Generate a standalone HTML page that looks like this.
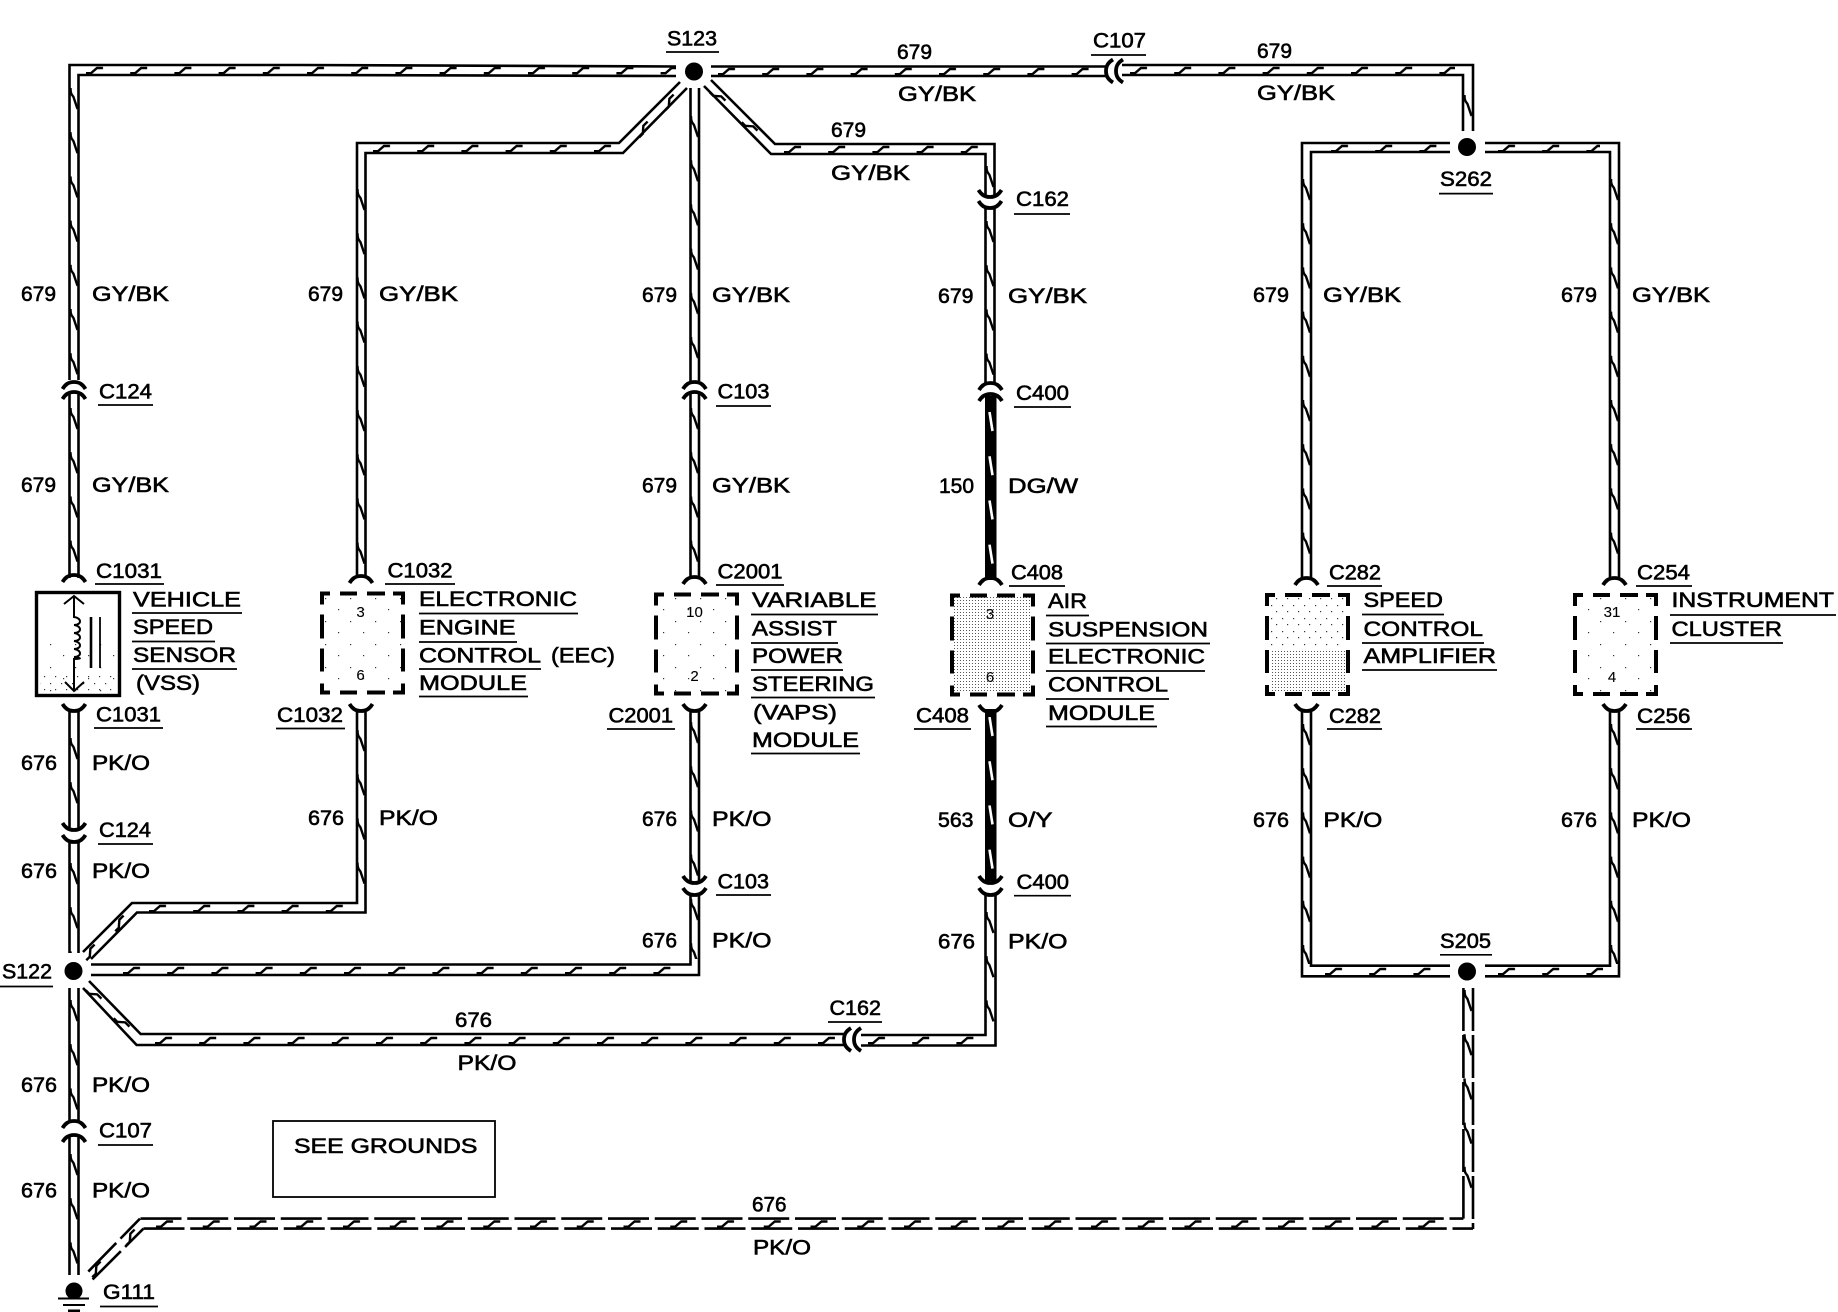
<!DOCTYPE html>
<html><head><meta charset="utf-8"><title>Wiring diagram</title>
<style>
html,body{margin:0;padding:0;background:#fff}
svg{display:block}
text{font-family:"Liberation Sans",Arial,sans-serif;font-size:21px;fill:#000;stroke:#000;stroke-width:.6}
.n{font-size:15px;stroke-width:.1;text-anchor:middle}
</style></head><body>
<svg xmlns="http://www.w3.org/2000/svg" width="1838" height="1312" viewBox="0 0 1838 1312">
<defs>
<path id="th" d="M0,3.2H5L11,-2H17" fill="none" stroke="#000" stroke-width="2.4"/>
<pattern id="v" patternUnits="userSpaceOnUse" width="10" height="44.2"><path d="M1.5,0C1.5,7 3.5,7 4.5,9L8.5,21" fill="none" stroke="#000" stroke-width="2.4"/></pattern>
<pattern id="vw" patternUnits="userSpaceOnUse" width="12" height="44.2"><path d="M4.5,0L7.5,19" stroke="#fff" stroke-width="2.6" fill="none"/></pattern>
<pattern id="h" patternUnits="userSpaceOnUse" width="44.2" height="10"><path d="M0,8.2H5L11,3H17" fill="none" stroke="#000" stroke-width="2.4"/></pattern>
<pattern id="hd" patternUnits="userSpaceOnUse" width="46.75" height="10"><path d="M0,8.2H5L11,3H17" fill="none" stroke="#000" stroke-width="2.4"/></pattern>
<pattern id="s1" patternUnits="userSpaceOnUse" width="3" height="3"><rect width="1" height="1" fill="#555"/></pattern>
<pattern id="s2" patternUnits="userSpaceOnUse" width="11" height="13"><rect width="1.2" height="1.2" fill="#333"/><rect x="6" y="7" width="1.2" height="1.2" fill="#333"/></pattern>
<pattern id="s3" patternUnits="userSpaceOnUse" width="25" height="23"><rect width="1.2" height="1.2" fill="#333"/><rect x="13" y="11" width="1.2" height="1.2" fill="#333"/></pattern>
<path id="cu" d="M-11.5,5C-9,1 -6,-2 0,-2C6,-2 9,1 11.5,5" fill="none" stroke="#000" stroke-width="3.8"/>
<path id="box" fill="none" stroke="#000" stroke-width="4" d="M2,13V2H10M20,2H37M47,2H65M73,2H83V13M2,23V47M2,57V80M2,92V101H10M20,101H37M47,101H65M73,101H83V92M83,80V57M83,47V23"/>
</defs>

<!-- stipple fills -->
<rect x="954" y="597" width="76" height="96" fill="url(#s1)"/>
<rect x="1270" y="650" width="76" height="42" fill="url(#s1)"/>
<rect x="1270" y="597" width="76" height="53" fill="url(#s2)"/>
<rect x="324" y="596" width="78" height="94" fill="url(#s3)"/>
<rect x="658" y="596" width="76" height="96" fill="url(#s3)"/>
<rect x="1577" y="596" width="76" height="96" fill="url(#s3)"/>
<rect x="40" y="640" width="76" height="52" fill="url(#s3)"/>
<rect x="40" y="672" width="76" height="20" fill="url(#s2)"/>

<!-- wire rails -->
<g fill="none" stroke="#000" stroke-width="2.6">
<path d="M69.5,380V65H300L676,66.5"/>
<path d="M78.5,380V75H300L676,76"/>
<path d="M69.5,394V578M78.5,394V578"/>
<path d="M69.5,710V830M78.5,710V830"/>
<path d="M69.5,842V953M78.5,842V953"/>
<path d="M69.5,988V1121M78.5,988V1121"/>
<path d="M69.5,1136V1275M78.5,1136V1275"/>
<path d="M711,66.5H1106M711,76H1106"/>
<path d="M1122,65H1473V131M1122,75H1463V131"/>
<path d="M357,578V143H619L680,82"/>
<path d="M365.5,578V153H623L687,88"/>
<path d="M357,710V903H132L83,952"/>
<path d="M365.5,710V912.5H137L91,959"/>
<path d="M690.5,88V381M699,88V381M690.5,394V578M699,394V578"/>
<path d="M690.5,710V883M699,710V883"/>
<path d="M690.5,895V964.5H91M699,895V975H91"/>
<path d="M711,80L775,144H994.5V197"/>
<path d="M704,86L771,154H985.5V197"/>
<path d="M985.5,207V385M994.5,207V385"/>
<path d="M985.5,893V1035H861M995.5,893V1045.5H861"/>
<path d="M89,981L140.6,1034H845M83,988L136.6,1045H845"/>
<path d="M1450,143H1302V580M1450,152H1311V580"/>
<path d="M1485,143H1619V580M1485,152H1610V580"/>
<path d="M1302,710V976.3H1450M1311,710V965.7H1450"/>
<path d="M1619,710V976.3H1485M1610,710V965.7H1485"/>
<path stroke-dasharray="43 4" d="M1463.4,988V1218.6"/>
<path stroke-dasharray="43 4" d="M1473,988V1229"/>
<path stroke-dasharray="41 5.75" d="M140.5,1218.6H1463.4"/>
<path stroke-dasharray="41 5.75" d="M143.5,1228.6H1473"/>
<path stroke-dasharray="28 6 40" d="M140,1218.6L83,1277"/>
<path stroke-dasharray="26 6 40" d="M143.5,1228.6L88,1284"/>
</g>

<!-- thick wires -->
<rect x="985" y="396" width="11.5" height="184" fill="#000"/>
<rect x="985" y="709" width="11.5" height="172" fill="#000"/>

<!-- vertical ticks -->
<g fill="url(#v)">
<g transform="translate(69,88)"><rect width="10" height="290"/></g>
<g transform="translate(69,408)"><rect width="10" height="170"/></g>
<g transform="translate(69,738)"><rect width="10" height="85"/></g>
<g transform="translate(69,863)"><rect width="10" height="90"/></g>
<g transform="translate(69,1000)"><rect width="10" height="118"/></g>
<g transform="translate(69,1154)"><rect width="10" height="120"/></g>
<g transform="translate(356,189)"><rect width="10" height="390"/></g>
<g transform="translate(356,730)"><rect width="10" height="170"/></g>
<g transform="translate(689.5,116)"><rect width="10" height="265"/></g>
<g transform="translate(689.5,408)"><rect width="10" height="170"/></g>
<g transform="translate(689.5,722)"><rect width="10" height="154"/></g>
<g transform="translate(689.5,899)"><rect width="10" height="60"/></g>
<g transform="translate(985,166)"><rect width="10" height="23"/></g>
<g transform="translate(985,221)"><rect width="10" height="160"/></g>
<g transform="translate(985,912)"><rect width="10" height="112"/></g>
<g transform="translate(1301.5,179)"><rect width="10" height="375"/></g>
<g transform="translate(1301.5,724)"><rect width="10" height="240"/></g>
<g transform="translate(1609.5,179)"><rect width="10" height="375"/></g>
<g transform="translate(1609.5,724)"><rect width="10" height="240"/></g>
<g transform="translate(1463,95)"><rect width="10" height="30"/></g>
<g transform="translate(1463,990)"><rect width="10" height="215"/></g>
</g>
<g fill="url(#vw)">
<g transform="translate(985,412)"><rect width="12" height="165"/></g>
<g transform="translate(985,717)"><rect width="12" height="160"/></g>
</g>

<!-- horizontal ticks -->
<g fill="url(#h)">
<g transform="translate(86,65)"><rect width="590" height="10"/></g>
<g transform="translate(718,66)"><rect width="380" height="10"/></g>
<g transform="translate(1130,65)"><rect width="325" height="10"/></g>
<g transform="translate(1331,143)"><rect width="110" height="10"/></g>
<g transform="translate(1498,143)"><rect width="102" height="10"/></g>
<g transform="translate(784,144)"><rect width="196" height="10"/></g>
<g transform="translate(373,143)"><rect width="240" height="10"/></g>
<g transform="translate(149,903)"><rect width="200" height="10"/></g>
<g transform="translate(123,965)"><rect width="555" height="10"/></g>
<g transform="translate(155,1035)"><rect width="680" height="10"/></g>
<g transform="translate(868,1035)"><rect width="110" height="10"/></g>
<g transform="translate(1325,966)"><rect width="110" height="10"/></g>
<g transform="translate(1498,966)"><rect width="105" height="10"/></g>
</g>
<g transform="translate(156,1218.5)"><rect width="1290" height="10" fill="url(#hd)"/></g>

<!-- diagonal ticks -->
<use href="#th" transform="translate(637,135) rotate(-45)"/>
<use href="#th" transform="translate(663,108) rotate(-45)"/>
<use href="#th" transform="translate(712,90) rotate(45)"/>
<use href="#th" transform="translate(744,120) rotate(45)"/>
<use href="#th" transform="translate(84,958) rotate(-45)"/>
<use href="#th" transform="translate(113,929) rotate(-45)"/>
<use href="#th" transform="translate(88,988) rotate(45)"/>
<use href="#th" transform="translate(116,1016) rotate(45)"/>
<use href="#th" transform="translate(124,1243) rotate(-45)"/>
<use href="#th" transform="translate(90,1275) rotate(-45)"/>

<!-- connectors -->
<g>
<use href="#cu" transform="translate(74,384)"/><use href="#cu" transform="translate(74,394)"/>
<use href="#cu" transform="translate(74,577)"/>
<use href="#cu" transform="translate(74,709) scale(1,-1)"/>
<use href="#cu" transform="translate(74,828) scale(1,-1)"/><use href="#cu" transform="translate(74,840) scale(1,-1)"/>
<use href="#cu" transform="translate(74,1123)"/><use href="#cu" transform="translate(74,1137)"/>
<use href="#cu" transform="translate(361,578)"/>
<use href="#cu" transform="translate(361,709) scale(1,-1)"/>
<use href="#cu" transform="translate(694.5,384)"/><use href="#cu" transform="translate(694.5,394)"/>
<use href="#cu" transform="translate(694.5,579)"/>
<use href="#cu" transform="translate(694.5,709) scale(1,-1)"/>
<use href="#cu" transform="translate(694.5,881) scale(1,-1)"/><use href="#cu" transform="translate(694.5,893) scale(1,-1)"/>
<use href="#cu" transform="translate(990,195) scale(1,-1)"/><use href="#cu" transform="translate(990,206) scale(1,-1)"/>
<use href="#cu" transform="translate(990.5,385)"/><use href="#cu" transform="translate(990.5,396)"/>
<use href="#cu" transform="translate(990.5,580)"/>
<use href="#cu" transform="translate(990.5,710) scale(1,-1)"/>
<use href="#cu" transform="translate(990.5,881) scale(1,-1)"/><use href="#cu" transform="translate(990.5,893) scale(1,-1)"/>
<use href="#cu" transform="translate(1306.5,580)"/>
<use href="#cu" transform="translate(1306.5,709) scale(1,-1)"/>
<use href="#cu" transform="translate(1614.5,580)"/>
<use href="#cu" transform="translate(1614.5,709) scale(1,-1)"/>
<use href="#cu" transform="translate(1108,71) rotate(-90)"/><use href="#cu" transform="translate(1118,71) rotate(-90)"/>
<use href="#cu" transform="translate(846,1039.5) rotate(-90)"/><use href="#cu" transform="translate(856,1039.5) rotate(-90)"/>
</g>

<!-- splices -->
<g fill="#000">
<circle cx="694" cy="71.5" r="9"/>
<circle cx="1467" cy="147" r="9"/>
<circle cx="73.5" cy="971" r="9"/>
<circle cx="1467" cy="971.5" r="9"/>
<circle cx="74" cy="1291" r="8.5"/>
</g>
<path d="M58,1298.5H89M63,1305H85" stroke="#000" stroke-width="2" fill="none"/>
<path d="M68,1311H80" stroke="#000" stroke-width="3" fill="none"/>

<!-- modules -->
<rect x="36.5" y="592.5" width="83" height="103" fill="none" stroke="#000" stroke-width="3.4"/>
<g fill="none" stroke="#000" stroke-width="2">
<path d="M74,596V617c8,1 8,8 0,8c8,1 8,8 0,8c8,1 8,8 0,8c8,1 8,8 0,8c8,1 8,8 0,8c8,1 8,2 0,2V691"/>
<path d="M64,604L74,596L84,604M65,682L74,691L84,682"/>
<path d="M91,617V668" stroke-width="2.6"/>
<path d="M100,617V668" stroke-width="1.8"/>
</g>
<use href="#box" transform="translate(320,591.5)"/>
<use href="#box" transform="translate(654,592.5)"/>
<use href="#box" transform="translate(950,593.5)"/>
<use href="#box" transform="translate(1265,593)"/>
<use href="#box" transform="translate(1573,593)"/>

<text class="n" x="360.5" y="617">3</text><text class="n" x="360.5" y="680">6</text>
<text class="n" x="694.5" y="617">10</text><text class="n" x="694.5" y="681">2</text>
<text class="n" x="990" y="619">3</text><text class="n" x="990" y="682">6</text>
<text class="n" x="1612" y="617">31</text><text class="n" x="1612" y="682">4</text>

<!-- underlines -->
<path fill="none" stroke="#000" stroke-width="1.7" d="M666,52H719M98,405H153M95,584H164M385,584H455M716,406H771M716,585H784M1091,55H1146M1014,214H1070M1014,407H1071M1009,586H1065M1439,193.6H1493M1327,586H1382M1636,586H1692
M132,613H242M132,641.5H215M132,669H237M419,613.5H578M419,642H517M419,669H541M419,696.5H528M751,614.5H878M751,643H838M751,670H843M751,697.5H875M751,753.5H860M1046,615.5H1089M1046,643.5H1210M1046,671H1205M1046,699H1169M1046,726.5H1157M1362,614.5H1444M1362,643H1484M1362,670H1497M1670,615H1836M1670,643H1783
M94,728H163M98,844H153M0,986.5H53M98,1145H153M100,1306.5H158M276,728.5H345M607,729H675M716,895H771M828,1022H882M914,729H971M1014,895.7H1071M1327,729H1382M1636,729H1692M1440,954.8H1492"/>

<rect x="273" y="1121" width="222" height="76" fill="none" stroke="#000" stroke-width="1.8"/>

<!-- labels -->
<g>
<text x="667" y="45.5" textLength="50" lengthAdjust="spacingAndGlyphs">S123</text>
<text x="21" y="301" textLength="35" lengthAdjust="spacingAndGlyphs">679</text>
<text x="92" y="301" textLength="77" lengthAdjust="spacingAndGlyphs">GY/BK</text>
<text x="21" y="492" textLength="35" lengthAdjust="spacingAndGlyphs">679</text>
<text x="92" y="492" textLength="77" lengthAdjust="spacingAndGlyphs">GY/BK</text>
<text x="99" y="398.5" textLength="53" lengthAdjust="spacingAndGlyphs">C124</text>
<text x="96" y="578" textLength="66" lengthAdjust="spacingAndGlyphs">C1031</text>
<text x="308" y="301" textLength="35" lengthAdjust="spacingAndGlyphs">679</text>
<text x="379" y="301" textLength="79" lengthAdjust="spacingAndGlyphs">GY/BK</text>
<text x="387.5" y="577.5" textLength="65" lengthAdjust="spacingAndGlyphs">C1032</text>
<text x="642" y="302" textLength="35" lengthAdjust="spacingAndGlyphs">679</text>
<text x="712" y="302" textLength="78" lengthAdjust="spacingAndGlyphs">GY/BK</text>
<text x="642" y="492.5" textLength="35" lengthAdjust="spacingAndGlyphs">679</text>
<text x="712" y="492.5" textLength="78" lengthAdjust="spacingAndGlyphs">GY/BK</text>
<text x="717.5" y="398.5" textLength="52" lengthAdjust="spacingAndGlyphs">C103</text>
<text x="717.5" y="578.7" textLength="65" lengthAdjust="spacingAndGlyphs">C2001</text>
<text x="831" y="137" textLength="35" lengthAdjust="spacingAndGlyphs">679</text>
<text x="831" y="180" textLength="79" lengthAdjust="spacingAndGlyphs">GY/BK</text>
<text x="897" y="59" textLength="35" lengthAdjust="spacingAndGlyphs">679</text>
<text x="898" y="101" textLength="78" lengthAdjust="spacingAndGlyphs">GY/BK</text>
<text x="1093" y="47.5" textLength="53" lengthAdjust="spacingAndGlyphs">C107</text>
<text x="1257" y="58" textLength="35" lengthAdjust="spacingAndGlyphs">679</text>
<text x="1257" y="100" textLength="78" lengthAdjust="spacingAndGlyphs">GY/BK</text>
<text x="1016" y="206" textLength="53" lengthAdjust="spacingAndGlyphs">C162</text>
<text x="938" y="303" textLength="35.5" lengthAdjust="spacingAndGlyphs">679</text>
<text x="1008" y="303" textLength="79" lengthAdjust="spacingAndGlyphs">GY/BK</text>
<text x="1016" y="400" textLength="53" lengthAdjust="spacingAndGlyphs">C400</text>
<text x="939" y="493" textLength="35" lengthAdjust="spacingAndGlyphs">150</text>
<text x="1008" y="493" textLength="70" lengthAdjust="spacingAndGlyphs">DG/W</text>
<text x="1011" y="579.5" textLength="52" lengthAdjust="spacingAndGlyphs">C408</text>
<text x="1440" y="186" textLength="52" lengthAdjust="spacingAndGlyphs">S262</text>
<text x="1253" y="302" textLength="36" lengthAdjust="spacingAndGlyphs">679</text>
<text x="1323" y="302" textLength="78" lengthAdjust="spacingAndGlyphs">GY/BK</text>
<text x="1561" y="302" textLength="36" lengthAdjust="spacingAndGlyphs">679</text>
<text x="1632" y="302" textLength="78" lengthAdjust="spacingAndGlyphs">GY/BK</text>
<text x="1329" y="579.5" textLength="52" lengthAdjust="spacingAndGlyphs">C282</text>
<text x="1637" y="579.5" textLength="53" lengthAdjust="spacingAndGlyphs">C254</text>

<text x="133" y="606.7" textLength="108" lengthAdjust="spacingAndGlyphs">VEHICLE</text>
<text x="133" y="634" textLength="80" lengthAdjust="spacingAndGlyphs">SPEED</text>
<text x="133" y="662" textLength="103" lengthAdjust="spacingAndGlyphs">SENSOR</text>
<text x="136" y="690" textLength="64" lengthAdjust="spacingAndGlyphs">(VSS)</text>
<text x="419" y="606" textLength="158" lengthAdjust="spacingAndGlyphs">ELECTRONIC</text>
<text x="419" y="634.7" textLength="96.5" lengthAdjust="spacingAndGlyphs">ENGINE</text>
<text x="419" y="662.7" textLength="122" lengthAdjust="spacingAndGlyphs">CONTROL</text>
<text x="551" y="662.7" textLength="64" lengthAdjust="spacingAndGlyphs">(EEC)</text>
<text x="419" y="690" textLength="108" lengthAdjust="spacingAndGlyphs">MODULE</text>
<text x="752" y="607" textLength="124.5" lengthAdjust="spacingAndGlyphs">VARIABLE</text>
<text x="752" y="635.5" textLength="85" lengthAdjust="spacingAndGlyphs">ASSIST</text>
<text x="752" y="663" textLength="91" lengthAdjust="spacingAndGlyphs">POWER</text>
<text x="752" y="691" textLength="122" lengthAdjust="spacingAndGlyphs">STEERING</text>
<text x="753" y="719.6" textLength="84" lengthAdjust="spacingAndGlyphs">(VAPS)</text>
<text x="752" y="747" textLength="107" lengthAdjust="spacingAndGlyphs">MODULE</text>
<text x="1048" y="608" textLength="39" lengthAdjust="spacingAndGlyphs">AIR</text>
<text x="1048" y="636.7" textLength="160" lengthAdjust="spacingAndGlyphs">SUSPENSION</text>
<text x="1048" y="663.5" textLength="157" lengthAdjust="spacingAndGlyphs">ELECTRONIC</text>
<text x="1048" y="691.7" textLength="120" lengthAdjust="spacingAndGlyphs">CONTROL</text>
<text x="1048" y="720" textLength="107" lengthAdjust="spacingAndGlyphs">MODULE</text>
<text x="1363.5" y="607" textLength="79.5" lengthAdjust="spacingAndGlyphs">SPEED</text>
<text x="1363.5" y="636" textLength="119.5" lengthAdjust="spacingAndGlyphs">CONTROL</text>
<text x="1363.5" y="663" textLength="132.5" lengthAdjust="spacingAndGlyphs">AMPLIFIER</text>
<text x="1671.5" y="607" textLength="162.5" lengthAdjust="spacingAndGlyphs">INSTRUMENT</text>
<text x="1671.5" y="636" textLength="110.5" lengthAdjust="spacingAndGlyphs">CLUSTER</text>

<text x="96" y="721.7" textLength="65" lengthAdjust="spacingAndGlyphs">C1031</text>
<text x="21" y="770" textLength="36" lengthAdjust="spacingAndGlyphs">676</text>
<text x="92" y="770" textLength="58" lengthAdjust="spacingAndGlyphs">PK/O</text>
<text x="99" y="837" textLength="52" lengthAdjust="spacingAndGlyphs">C124</text>
<text x="21" y="878" textLength="36" lengthAdjust="spacingAndGlyphs">676</text>
<text x="92" y="878" textLength="58" lengthAdjust="spacingAndGlyphs">PK/O</text>
<text x="2" y="978.4" textLength="50" lengthAdjust="spacingAndGlyphs">S122</text>
<text x="21" y="1092" textLength="36" lengthAdjust="spacingAndGlyphs">676</text>
<text x="92" y="1092" textLength="58" lengthAdjust="spacingAndGlyphs">PK/O</text>
<text x="99" y="1137.5" textLength="53" lengthAdjust="spacingAndGlyphs">C107</text>
<text x="21" y="1197.5" textLength="36" lengthAdjust="spacingAndGlyphs">676</text>
<text x="92" y="1197.5" textLength="58" lengthAdjust="spacingAndGlyphs">PK/O</text>
<text x="103" y="1299" textLength="52" lengthAdjust="spacingAndGlyphs">G111</text>
<text x="277" y="722" textLength="66" lengthAdjust="spacingAndGlyphs">C1032</text>
<text x="308" y="825" textLength="36" lengthAdjust="spacingAndGlyphs">676</text>
<text x="379" y="825" textLength="59" lengthAdjust="spacingAndGlyphs">PK/O</text>
<text x="608.5" y="722.6" textLength="64.5" lengthAdjust="spacingAndGlyphs">C2001</text>
<text x="642" y="826" textLength="35" lengthAdjust="spacingAndGlyphs">676</text>
<text x="712" y="826" textLength="59.5" lengthAdjust="spacingAndGlyphs">PK/O</text>
<text x="717.5" y="888.5" textLength="51.5" lengthAdjust="spacingAndGlyphs">C103</text>
<text x="642" y="947.6" textLength="35" lengthAdjust="spacingAndGlyphs">676</text>
<text x="712" y="947.6" textLength="59.5" lengthAdjust="spacingAndGlyphs">PK/O</text>
<text x="455" y="1027" textLength="37" lengthAdjust="spacingAndGlyphs">676</text>
<text x="457.5" y="1070" textLength="59" lengthAdjust="spacingAndGlyphs">PK/O</text>
<text x="829.5" y="1015" textLength="51.5" lengthAdjust="spacingAndGlyphs">C162</text>
<text x="294" y="1153" textLength="183.5" lengthAdjust="spacingAndGlyphs">SEE GROUNDS</text>
<text x="752" y="1211.4" textLength="34.5" lengthAdjust="spacingAndGlyphs">676</text>
<text x="753" y="1254.5" textLength="58" lengthAdjust="spacingAndGlyphs">PK/O</text>
<text x="916" y="722.6" textLength="53" lengthAdjust="spacingAndGlyphs">C408</text>
<text x="938" y="827" textLength="35.5" lengthAdjust="spacingAndGlyphs">563</text>
<text x="1008" y="827" textLength="44.5" lengthAdjust="spacingAndGlyphs">O/Y</text>
<text x="1016.5" y="889" textLength="52.5" lengthAdjust="spacingAndGlyphs">C400</text>
<text x="938" y="948.4" textLength="37" lengthAdjust="spacingAndGlyphs">676</text>
<text x="1008" y="948.4" textLength="59.5" lengthAdjust="spacingAndGlyphs">PK/O</text>
<text x="1329" y="723" textLength="52" lengthAdjust="spacingAndGlyphs">C282</text>
<text x="1637" y="723" textLength="53.5" lengthAdjust="spacingAndGlyphs">C256</text>
<text x="1253" y="827" textLength="36" lengthAdjust="spacingAndGlyphs">676</text>
<text x="1323.4" y="827" textLength="59" lengthAdjust="spacingAndGlyphs">PK/O</text>
<text x="1561" y="827" textLength="36" lengthAdjust="spacingAndGlyphs">676</text>
<text x="1632" y="827" textLength="59" lengthAdjust="spacingAndGlyphs">PK/O</text>
<text x="1440" y="948" textLength="51" lengthAdjust="spacingAndGlyphs">S205</text>
</g>
</svg>
</body></html>
